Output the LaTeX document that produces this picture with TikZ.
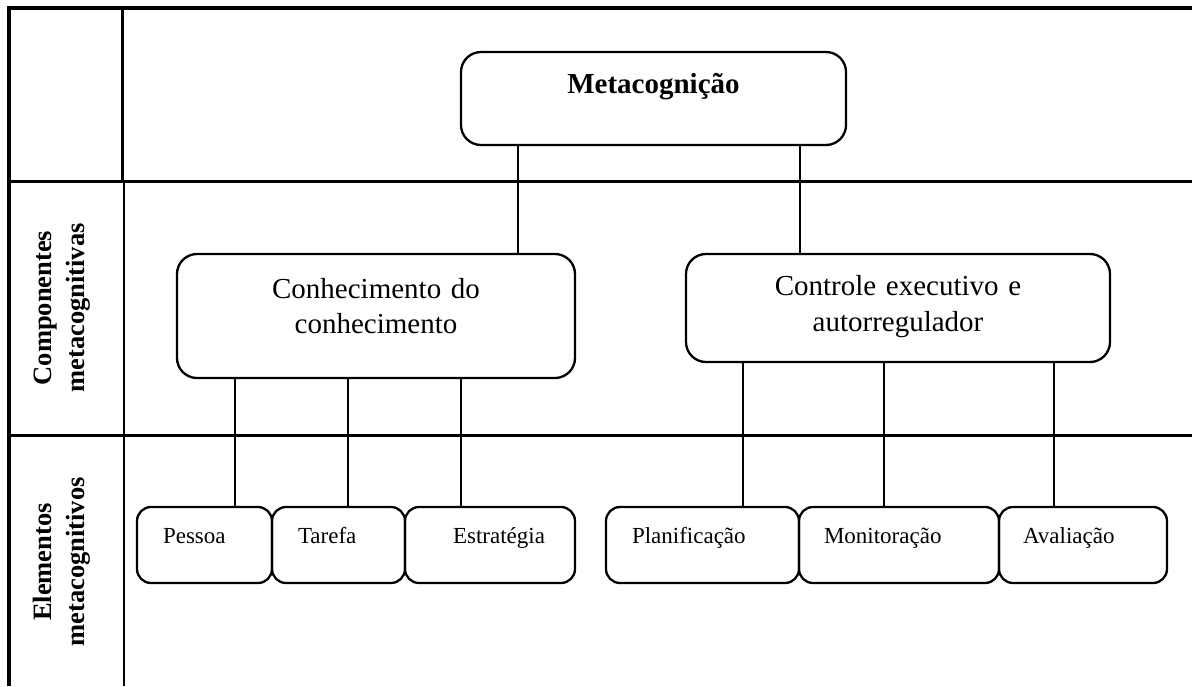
\documentclass[tikz,border=0pt]{standalone}
\usepackage{fontspec}
\setmainfont{Liberation Serif}
\begin{document}
\begin{tikzpicture}[x=1pt,y=-1pt,
  grid/.style={line width=2.6pt},
  outer/.style={line width=3.8pt},
  box/.style={draw, line width=2.3pt, inner sep=0pt, outer sep=0pt, anchor=north west},
  bigbox/.style={box, rounded corners=20pt, align=center, font=\fontsize{29}{35}\selectfont},
  smallbox/.style={box, rounded corners=14pt, align=left, text height=36pt, text depth=40pt, font=\fontsize{23}{27}\selectfont},
  conn/.style={line width=2.3pt},
  side/.style={rotate=90, align=center, font=\fontsize{26.5}{33}\selectfont\bfseries}]
\useasboundingbox (0,0) rectangle (1192,686);
% grid
\draw[outer] (7.5,8.3) -- (1192,8.3);
\draw[outer] (9.3,6.4) -- (9.3,686);
\draw[grid] (122.7,8) -- (122.7,181.7);
\draw[grid] (124,181.7) -- (124,686);
\draw[grid] (9,181.7) -- (1192,181.7);
\draw[grid] (9,435.3) -- (1192,435.3);
% side labels
\node[side] (lab1) at (62,308) {Componentes\\metacognitivas};
\node[side] (lab2) at (62,562) {Elementos\\metacognitivos};
% boxes
\node[bigbox, text width=385pt, text height=41pt, text depth=52pt, font=\fontsize{29}{35}\selectfont\bfseries] (meta) at (461,52) {Metacognição};
\node[bigbox, text width=398pt, text height=44pt, text depth=80pt] (con) at (177,254) {Conhecimento do\\conhecimento};
\node[bigbox, text width=424pt, text height=41pt, text depth=67pt, font=\fontsize{29}{36}\selectfont] (ctl) at (686,254) {Controle executivo e\\autorregulador};
\node[smallbox, text width=135pt] (b1) at (137,507) {\hspace*{26pt}Pessoa};
\node[smallbox, text width=133pt] (b2) at (272,507) {\hspace*{26pt}Tarefa};
\node[smallbox, text width=170pt] (b3) at (405,507) {\hspace*{48pt}Estratégia};
\node[smallbox, text width=193pt] (b4) at (606,507) {\hspace*{26pt}Planificação};
\node[smallbox, text width=200pt] (b5) at (799,507) {\hspace*{25pt}Monitoração};
\node[smallbox, text width=168pt] (b6) at (999,507) {\hspace*{24pt}Avaliação};
% connector x positions
\coordinate (x1) at (518,0);
\coordinate (x2) at (800,0);
\coordinate (x3) at (235,0);
\coordinate (x4) at (348,0);
\coordinate (x5) at (461,0);
\coordinate (x6) at (743,0);
\coordinate (x7) at (884,0);
\coordinate (x8) at (1054,0);
\draw[conn] (meta.south -| x1) -- (con.north -| x1);
\draw[conn] (meta.south -| x2) -- (ctl.north -| x2);
\draw[conn] (con.south -| x3) -- (b1.north -| x3);
\draw[conn] (con.south -| x4) -- (b2.north -| x4);
\draw[conn] (con.south -| x5) -- (b3.north -| x5);
\draw[conn] (ctl.south -| x6) -- (b4.north -| x6);
\draw[conn] (ctl.south -| x7) -- (b5.north -| x7);
\draw[conn] (ctl.south -| x8) -- (b6.north -| x8);
\end{tikzpicture}
\end{document}
